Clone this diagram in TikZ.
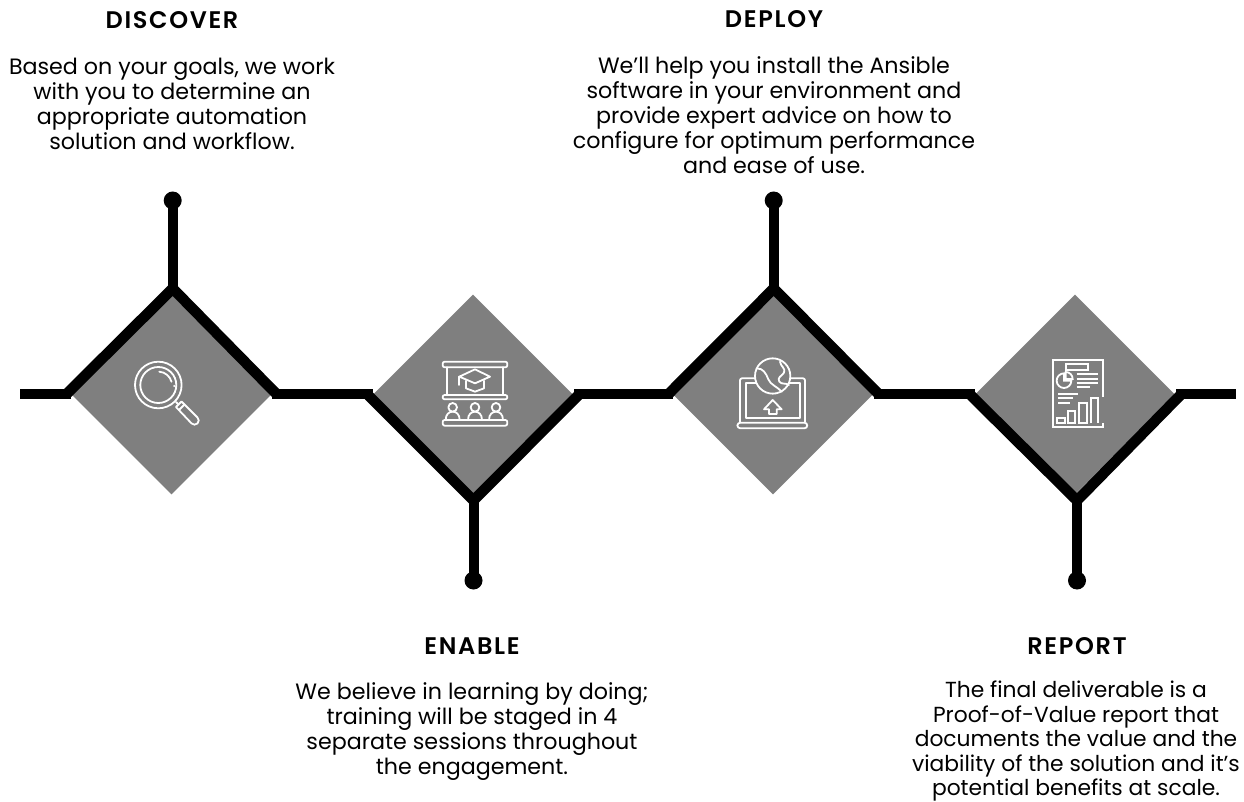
\documentclass[tikz,border=0pt]{standalone}
\usepackage{fontspec}
\setmainfont{Poppins}
\newfontfamily\headfont[LetterSpace=7]{Poppins SemiBold}
\usetikzlibrary{shapes.geometric,calc}
\definecolor{greyfill}{RGB}{127,127,127}
\tikzset{
  x=1pt,y=-1pt,
  bar/.style={line width=10pt,black,line cap=butt},
  chev/.style={line width=10.6pt,black,line cap=butt,line join=miter,miter limit=10},
  dotnode/.style={circle,fill=black,draw=none,minimum size=18pt,inner sep=0pt},
  dia/.style={diamond,fill=greyfill,draw=none,minimum width=200pt,minimum height=200pt,inner sep=0pt,aspect=1},
  head/.style={font=\headfont\fontsize{24}{25}\selectfont,inner sep=0pt},
  body/.style={font=\fontsize{22.2}{25}\selectfont,align=center,inner sep=0pt},
  ico/.style={draw=white,line width=1.8pt,line cap=round,line join=round},
}
\begin{document}
\begin{tikzpicture}
\useasboundingbox (0,0) rectangle (1244,802);
\fill[white] (0,0) rectangle (1244,802);
% anchors
\coordinate (a1) at (172.7,288.5); \coordinate (l1) at (67,393.5);  \coordinate (r1) at (276,393.5);
\coordinate (a2) at (473.5,500.5); \coordinate (l2) at (368.5,395.5); \coordinate (r2) at (578,395.5);
\coordinate (a3) at (773.7,288.5); \coordinate (l3) at (669,393.5); \coordinate (r3) at (878,393.5);
\coordinate (a4) at (1077,500.5);  \coordinate (l4) at (971,395.5); \coordinate (r4) at (1180,395.5);
\coordinate (s) at (20,394); \coordinate (e) at (1236,394);
% horizontal line
\draw[bar] (s) -- ([xshift=4pt]l1 |- s);
\draw[bar] ([xshift=-4pt]r1 |- s) -- ([xshift=4pt]l2 |- s);
\draw[bar] ([xshift=-4pt]r2 |- s) -- ([xshift=4pt]l3 |- s);
\draw[bar] ([xshift=-4pt]r3 |- s) -- ([xshift=4pt]l4 |- s);
\draw[bar] ([xshift=-4pt]r4 |- s) -- (e);
% diamonds
\node[dia] (d1) at (171.5,394.5) {};
\node[dia] (d2) at (473,394.5) {};
\node[dia] (d3) at (773,394.5) {};
\node[dia] (d4) at (1075,394.5) {};
% dots
\node[dotnode] (p1) at (172.7,200.5) {};
\node[dotnode] (p2) at (473.5,580.5) {};
\node[dotnode] (p3) at (773.7,200.5) {};
\node[dotnode] (p4) at (1077,580.5) {};
\draw[bar] (p1.center) -- (a1);
\draw[bar] (p2.center) -- (a2);
\draw[bar] (p3.center) -- (a3);
\draw[bar] (p4.center) -- (a4);
\draw[chev] (l1) -- (a1) -- (r1);
\draw[chev] (l2) -- (a2) -- (r2);
\draw[chev] (l3) -- (a3) -- (r3);
\draw[chev] (l4) -- (a4) -- (r4);
% magnifier icon
\begin{scope}[ico]
\draw (158.3,385) circle (23.3);
\draw (158.3,385) circle (18);
\draw (159.3,371.7) arc (-86:-15:13.6);
\fill[white,draw=none] (174.3,386) circle (1.1);
\draw (176,402) -- (178,404);
\draw (181.5,401.5) -- (197.5,417.5) arc (-45:135:4.2) -- (176,407) -- cycle;
\draw (184.5,404.5) -- (179,410);
\end{scope}
% classroom icon
\begin{scope}[shift={(420,340)},x=0.3333pt,y=-0.3333pt,ico]
\draw[rounded corners=2pt] (68,65) rectangle (262,82);
\draw (82,82) -- (82,165) (248,82) -- (248,165);
\draw[rounded corners=2pt] (68,165) rectangle (262,178);
\draw (165,88) -- (210,110) -- (165,130) -- (118,110) -- cycle;
\draw (138,122) -- (138,145) -- (165,155) -- (192,145) -- (192,122);
\draw (118,110) -- (118,135);
\foreach \px in {98,165,228}{
  \draw (\px,202) circle (13);
  \draw (\px-21,240) .. controls (\px-21,222) and (\px-10,215) .. (\px,215) .. controls (\px+10,215) and (\px+21,222) .. (\px+21,240);
}
\draw[rounded corners=2pt] (68,240) rectangle (262,257);
\end{scope}
% laptop icon
\begin{scope}[shift={(720,340)},x=0.3333pt,y=-0.3333pt,ico]
\draw[rounded corners=2pt] (60,245) -- (60,115) -- (255,115) -- (255,245);
\draw (78,235) -- (78,130) -- (240,130) -- (240,235) -- cycle;
\draw[rounded corners=3pt] (52,248) rectangle (262,265);
\filldraw[fill=greyfill] (158,108) circle (53);
\draw (110,85) .. controls (130,85) and (138,100) .. (145,118) .. controls (152,135) and (172,140) .. (185,155);
\draw (180,65) .. controls (182,80) and (198,85) .. (192,98) .. controls (186,108) and (170,112) .. (178,125) .. controls (184,134) and (198,128) .. (207,135);
\draw (158,180) -- (132,208) -- (147,208) -- (147,222) -- (170,222) -- (170,208) -- (185,208) -- cycle;
\end{scope}
% report icon
\begin{scope}[shift={(1020,340)},x=0.3333pt,y=-0.3333pt,ico,line cap=butt,line join=miter]
\draw (248,170) -- (248,60) -- (98,60) -- (98,262) -- (248,262) -- (248,250);
\draw (138,72) rectangle (205,90);
\draw (132,122) -- (154,122) arc (0:270:22) -- cycle;
\draw (137,117) -- (137,96) arc (-90:0:21) -- cycle;
\draw (170,102) -- (235,102) (170,117) -- (235,117) (170,128) -- (235,128) (170,142) -- (210,142);
\draw (115,162) -- (175,162) (115,175) -- (160,175) (115,190) -- (150,190);
\draw (112,235) rectangle (135,248);
\draw (145,212) rectangle (165,250);
\draw (178,190) rectangle (200,250);
\draw (212,250) -- (212,175) -- (235,175) -- (235,250);
\end{scope}
% text
\node[head] (t1) at (172,20) {DISCOVER};
\node[head] (t2) at (774,19) {DEPLOY};
\node[head] (t3) at (472,646) {ENABLE};
\node[head] (t4) at (1077,646) {REPORT};
\node[body] (b1) at (172,103.5) {Based on your goals, we work\\with you to determine an\\appropriate automation\\solution and workflow.};
\node[body] (b2) at (774,115.5) {We’ll help you install the Ansible\\software in your environment and\\provide expert advice on how to\\configure for optimum performance\\and ease of use.};
\node[body] (b3) at (472,731.5) {We believe in learning by doing;\\training will be staged in 4\\separate sessions throughout\\the engagement.};
\node[body,font=\fontsize{21.8}{24.5}\selectfont] (b4) at (1076,741) {The final deliverable is a\\Proof-of-Value report that\\documents the value and the\\viability of the solution and it’s\\potential benefits at scale.};
\end{tikzpicture}
\end{document}
